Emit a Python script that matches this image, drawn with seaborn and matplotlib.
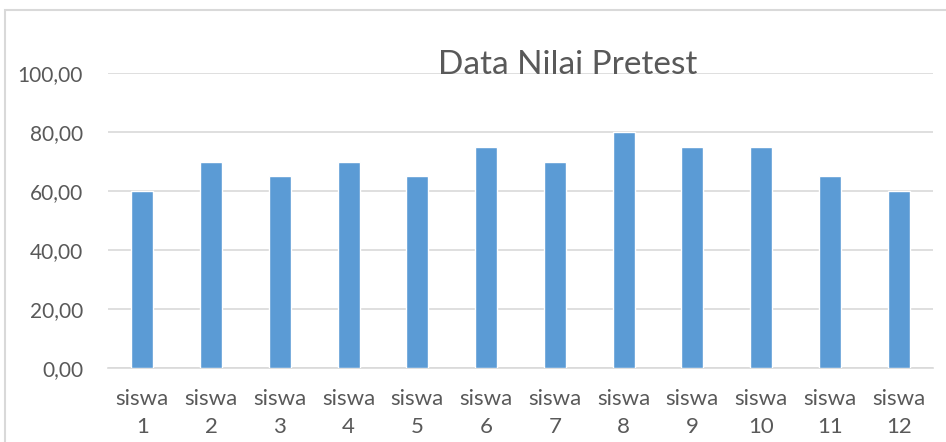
import pandas as pd
import seaborn as sns
import matplotlib.pyplot as plt
from matplotlib.patches import Rectangle

# Données du graphique
siswa = ['siswa\n1', 'siswa\n2', 'siswa\n3', 'siswa\n4', 'siswa\n5', 'siswa\n6',
         'siswa\n7', 'siswa\n8', 'siswa\n9', 'siswa\n10', 'siswa\n11', 'siswa\n12']
nilai = [60, 70, 65, 70, 65, 75, 70, 80, 75, 75, 65, 60]
yticks = [0, 20, 40, 60, 80, 100]

df = pd.DataFrame({'siswa': siswa, 'nilai': nilai})

sns.set_theme(style='white')
plt.rcParams['font.family'] = ['Lato', 'DejaVu Sans']

fig = plt.figure(figsize=(9.46, 4.42), dpi=100)
ax = fig.add_axes([108 / 946, 1 - 368 / 442, 825 / 946, 295 / 442])

sns.barplot(data=df, x='siswa', y='nilai', color='#5B9BD5', saturation=1,
            width=0.32, ax=ax, zorder=3)

ax.set_ylim(0, 100)
ax.set_yticks(yticks)
ax.set_yticklabels([f'{v:.2f}'.replace('.', ',') for v in yticks])
ax.set_xlim(-0.5, len(siswa) - 0.5)
ax.yaxis.grid(True, color='#D9D9D9', linewidth=1.2, zorder=0)
ax.set_axisbelow(True)
for s in ['left', 'right', 'top']:
    ax.spines[s].set_visible(False)
ax.spines['bottom'].set_color('#D9D9D9')
ax.spines['bottom'].set_linewidth(1.2)
ax.tick_params(axis='both', length=0, colors='#595959')
ax.tick_params(axis='y', labelsize=15, pad=18)
ax.tick_params(axis='x', labelsize=16, pad=15)
for lbl in ax.get_xticklabels():
    lbl.set_linespacing(1.5)
ax.set_xlabel('')
ax.set_ylabel('')

fig.text(568 / 946, 1 - 65 / 442, 'Data Nilai Pretest', ha='center', va='center',
         fontsize=24, color='#595959')

# cadre du graphique
fig.patches.append(Rectangle((5 / 946, -0.1), 1.1, 1 - 10 / 442 + 0.1,
                             transform=fig.transFigure, fill=False,
                             edgecolor='#D9D9D9', linewidth=1.5))

fig.savefig('out.png', dpi=100)
